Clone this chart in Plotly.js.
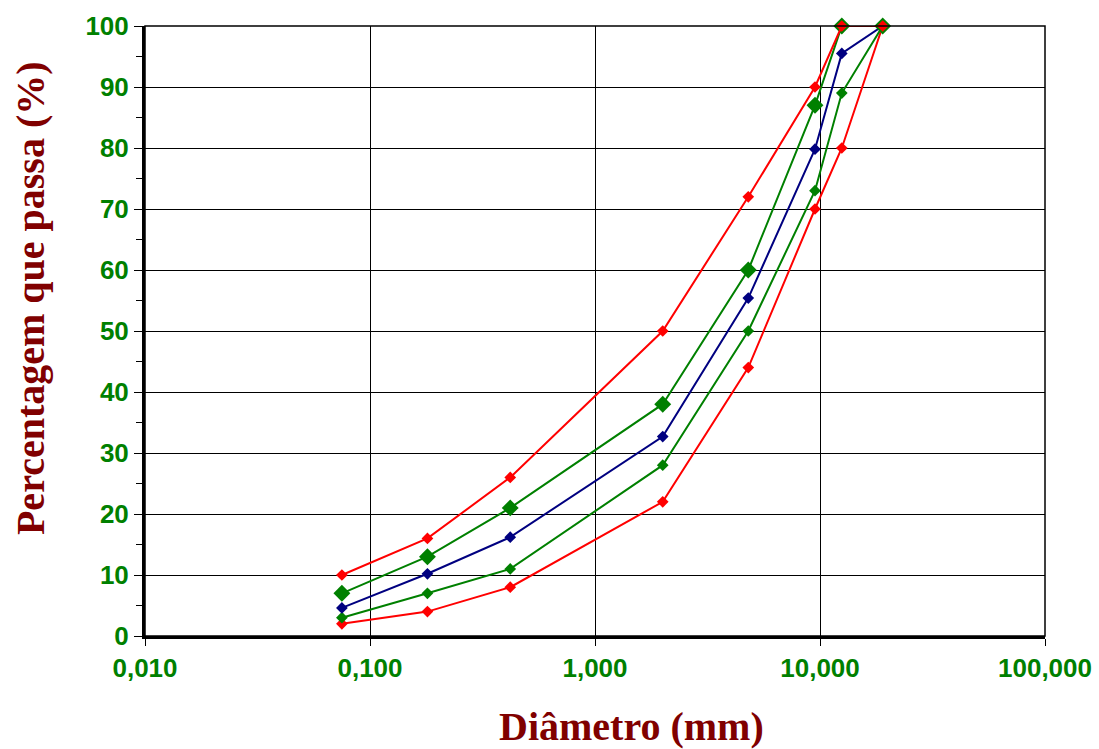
<!DOCTYPE html>
<html><head><meta charset="utf-8">
<script src="https://cdn.plot.ly/plotly-3.0.1.min.js"></script>
<style>html,body{margin:0;padding:0;background:#fff}#chart{width:1099px;height:749px}</style>
</head><body><div id="chart"></div>
<script>
const diameters = [0.075, 0.18, 0.42, 2.0, 4.8, 9.5, 12.5, 19];
const redUpper   = [10, 16, 26, 50, 72, 90, 100, 100];
const greenUpper = [7, 13, 21, 38, 60, 87, 100, 100];
const blueMid    = [4.6, 10.2, 16.2, 32.7, 55.4, 79.8, 95.5, 100];
const greenLower = [3, 7, 11, 28, 50, 73, 89, 100];
const redLower   = [2, 4, 8, 22, 44, 70, 80, 100];
const xTickVals = [0.01, 0.1, 1, 10, 100];
const xTickText = ['0,010', '0,100', '1,000', '10,000', '100,000'];
const xTitle = 'Diâmetro (mm)';
const yTitle = 'Percentagem que passa (%)';

function tr(y, color, size){
  return {x: diameters, y: y, mode: 'lines+markers', type: 'scatter',
    line: {color: color, width: 2},
    marker: {symbol: 'diamond', color: color, size: size},
    showlegend: false, hoverinfo: 'skip', cliponaxis: false};
}
const data = [
  tr(redLower, '#FF0000', 9),
  tr(greenLower, '#008000', 9),
  tr(blueMid, '#000080', 9),
  tr(greenUpper, '#008000', 13),
  tr(redUpper, '#FF0000', 9)
];
const tickFont = {family: 'Liberation Sans, Arial, sans-serif', size: 26, color: '#008000', weight: 'bold'};
const titleFont = {family: 'Liberation Serif, Times New Roman, serif', size: 40, color: '#800000', weight: 'bold'};
const layout = {
  width: 1099, height: 749,
  margin: {l: 145, r: 54, t: 26, b: 113},
  paper_bgcolor: '#fff', plot_bgcolor: '#fff',
  xaxis: {type: 'log', range: [-2, 2], tickvals: xTickVals, ticktext: xTickText,
    tickfont: tickFont, ticks: 'outside', ticklen: 7, tickcolor: '#000', tickwidth: 1,
    showgrid: true, gridcolor: '#000', gridwidth: 1,
    showline: true, linecolor: '#000', linewidth: 3, mirror: false,
    zeroline: false},
  yaxis: {range: [0, 100], dtick: 10, tickfont: tickFont,
    ticks: 'outside', ticklen: 8, tickcolor: '#000', tickwidth: 1,
    minor: {dtick: 5, ticks: 'outside', ticklen: 6, tickcolor: '#000', showgrid: false},
    showgrid: true, gridcolor: '#000', gridwidth: 1,
    showline: true, linecolor: '#000', linewidth: 3, zeroline: false},
  annotations: [
    {text: xTitle, xref: 'paper', yref: 'paper', x: 0.541, y: 0, yshift: -90,
     xanchor: 'center', yanchor: 'middle', showarrow: false, font: titleFont},
    {text: yTitle, xref: 'paper', yref: 'paper', x: 0, xshift: -115, y: 0.554,
     xanchor: 'center', yanchor: 'middle', textangle: -90, showarrow: false, font: titleFont}
  ],
  shapes: [
    {type: 'rect', xref: 'paper', yref: 'paper', x0: 0, x1: 1, y0: 0, y1: 1, line: {color: '#000', width: 1.5}}
  ]
};
Plotly.newPlot('chart', data, layout, {displayModeBar: false, staticPlot: true});
</script></body></html>
